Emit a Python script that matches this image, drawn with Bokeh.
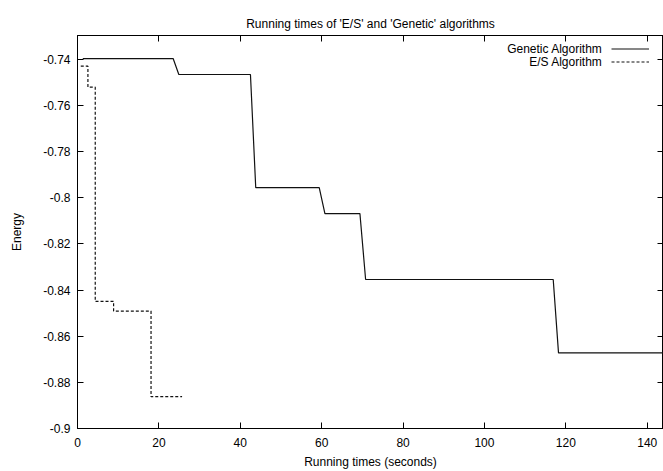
from bokeh.plotting import figure
from bokeh.models import (LinearAxis, FixedTicker, CustomJSTickFormatter, Range1d,
                          Legend, LegendItem, Label)
from bokeh.embed import file_html
from bokeh.resources import INLINE

# ---- data ----
title_text = "Running times of 'E/S' and 'Genetic' algorithms"
x_label = "Running times (seconds)"
y_label = "Energy"
series_names = ["Genetic Algorithm", "E/S Algorithm"]

gen_x = [1.3, 23.5, 24.9, 42.5, 43.8, 59.4, 60.8, 69.4, 70.8, 116.9, 118.2, 144.0]
gen_y = [-0.7396, -0.7396, -0.7465, -0.7465, -0.7956, -0.7956, -0.8068, -0.8068,
         -0.8354, -0.8354, -0.8672, -0.8672]

es_x = [0.8, 2.56, 4.36, 8.87, 18.07, 25.7]
es_y = [-0.7429, -0.7520, -0.8449, -0.8491, -0.8862, -0.8862]

x_ticks = [0, 20, 40, 60, 80, 100, 120, 140]
y_ticks = [-0.74, -0.76, -0.78, -0.80, -0.82, -0.84, -0.86, -0.88, -0.90]
x_range = (0, 144)
y_range = (-0.90, -0.7296)

FONT = "Liberation Sans"

p = figure(width=663, height=471, output_backend="svg", toolbar_location=None,
           x_range=Range1d(*x_range), y_range=Range1d(*y_range),
           min_border_left=77, min_border_right=0, min_border_top=35,
           min_border_bottom=43, x_axis_type=None, y_axis_type=None)
p.title.text = title_text
p.title.align = "center"
p.title.text_font = FONT
p.title.text_font_size = "12px"
p.title.text_font_style = "normal"
p.title.text_color = "black"
p.title.standoff = 10

p.outline_line_color = "black"
p.outline_line_width = 1
p.outline_line_alpha = 1
p.background_fill_color = "white"
p.border_fill_color = "white"

fmt = CustomJSTickFormatter(code="return String(Math.round(tick*100)/100);")
blank = CustomJSTickFormatter(code="return '';")

def style(ax, show_labels=True):
    ax.major_tick_in = 6
    ax.major_tick_out = 0
    ax.minor_tick_in = 0
    ax.minor_tick_out = 0
    ax.major_tick_line_color = "black"
    ax.axis_line_color = "black"
    ax.major_label_text_font = FONT
    ax.major_label_text_font_size = "12px" if show_labels else "0px"
    ax.major_label_text_color = "black"
    ax.axis_label_text_font = FONT
    ax.axis_label_text_font_size = "12px"
    ax.axis_label_text_font_style = "normal"
    ax.axis_label_text_color = "black"

xb = LinearAxis(ticker=FixedTicker(ticks=x_ticks), axis_label=x_label, formatter=fmt)
style(xb)
xb.major_label_standoff = 9
xb.axis_label_standoff = 5
p.add_layout(xb, "below")

yl = LinearAxis(ticker=FixedTicker(ticks=y_ticks), axis_label=y_label, formatter=fmt)
style(yl)
yl.major_label_standoff = 7
yl.axis_label_standoff = 16
p.add_layout(yl, "left")

xt = LinearAxis(ticker=FixedTicker(ticks=x_ticks), formatter=blank)
style(xt, False)
xt.major_label_standoff = 10
p.add_layout(xt, "above")

yr = LinearAxis(ticker=FixedTicker(ticks=y_ticks), formatter=blank)
style(yr, False)
yr.major_label_standoff = 0
p.add_layout(yr, "right")

p.xgrid.visible = False
p.ygrid.visible = False

r_gen = p.line(gen_x, gen_y, line_color="#111111", line_width=1.2)
r_es = p.step(es_x, es_y, mode="after", line_color="#111111", line_width=1.2,
              line_dash="3 2")

legend = Legend(items=[LegendItem(label=" ", renderers=[r_gen]),
                       LegendItem(label=" ", renderers=[r_es])],
                location=(534, 360), orientation="vertical",
                glyph_width=38, glyph_height=13, label_height=13, label_width=0,
                label_standoff=0, spacing=0, padding=0, margin=0,
                label_text_font_size="1px",
                border_line_alpha=0, background_fill_alpha=0)
p.add_layout(legend, "center")

for i, name in enumerate(series_names):
    p.add_layout(Label(x=525, y=379.7 - 13.4 * i, x_units="screen", y_units="screen",
                       text=name, text_align="right", text_baseline="middle",
                       text_font=FONT, text_font_size="12px", text_color="black"))

open("out.html", "w").write(file_html(p, INLINE))
